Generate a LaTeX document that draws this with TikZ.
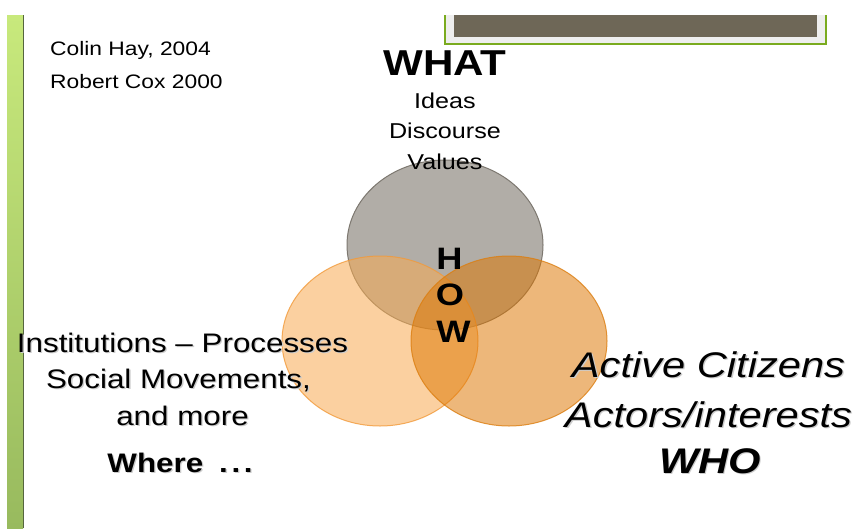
\documentclass[tikz,border=0pt]{standalone}
\usepackage{fontspec}
\setmainfont[FakeStretch=1.17]{Liberation Sans}
\definecolor{barTop}{HTML}{C8E97C}
\definecolor{barBot}{HTML}{98BA5E}
\definecolor{barEdge}{HTML}{55653F}
\definecolor{frameGreen}{HTML}{7AAB1F}
\definecolor{frameFill}{HTML}{6E6757}
\definecolor{frameGap}{HTML}{EEEEEE}
\definecolor{greyFill}{HTML}{B1ADA7}
\definecolor{greyEdge}{HTML}{7D7870}
\definecolor{leftFill}{HTML}{F8AB52}
\definecolor{leftEdge}{HTML}{F29A3A}
\definecolor{rightFill}{HTML}{DE7600}
\definecolor{rightEdge}{HTML}{DC7E10}
% text with a soft offset shadow
\newcommand\shadowed[1]{\makebox[0pt][l]{\hspace{1.3pt}\raisebox{-1.3pt}{\textcolor{black!20}{#1}}}#1}
\begin{document}
\begin{tikzpicture}[x=1pt,y=-1pt,
  ref/.style={anchor=base west,inner sep=0pt,font=\fontsize{19.5}{23}\selectfont},
  topline/.style={anchor=base,inner sep=0pt,font=\fontsize{21.5}{25}\selectfont},
  howletter/.style={anchor=base,inner sep=0pt,font=\fontsize{31}{36}\selectfont\bfseries},
  leftline/.style={anchor=base,inner sep=0pt,font=\fontsize{26.8}{31}\selectfont},
  rightline/.style={anchor=base,inner sep=0pt,font=\fontsize{35.6}{42}\selectfont\itshape},
  venn/.style={line width=1pt}]
\useasboundingbox (0,0) rectangle (859,528);
\fill[white] (0,0) rectangle (859,528);

% left decorative bar
\shade[top color=barTop,bottom color=barBot] (7,15) rectangle (23,528);
\draw[barEdge,line width=1.3pt] (23.6,15) -- (23.6,528);

% framed panel at the top right
\fill[frameGap] (445,15) rectangle (826,44);
\fill[frameFill] (454,15) rectangle (817,37);
\draw[frameGreen,line width=2pt] (445,15) -- (445,44) -- (826,44) -- (826,15);

% three overlapping ellipses
\coordinate (cWhat) at (445,245);
\coordinate (cWhere) at (380,341);
\coordinate (cWho) at (509,341);
\filldraw[venn,fill=greyFill,draw=greyEdge] (cWhat) ellipse [x radius=98,y radius=85];
\filldraw[venn,fill=leftFill,draw=leftEdge,fill opacity=0.55,draw opacity=0.8] (cWhere) ellipse [x radius=98,y radius=85];
\filldraw[venn,fill=rightFill,draw=rightEdge,fill opacity=0.52,draw opacity=0.8] (cWho) ellipse [x radius=98,y radius=85];

% references
\node[ref] (hay) at (50,55) {Colin Hay, 2004};
\node[ref] (cox) at (50,88) {Robert Cox 2000};

% WHAT
\node[anchor=base,inner sep=0pt,font=\fontsize{36}{41}\selectfont\bfseries] (what) at (445,75) {WHAT};
\node[topline] (ideas) at (445,108) {Ideas};
\node[topline] (disc) at (445,138) {Discourse};
\node[topline] (values) at (445,169) {Values};

% HOW
\node[howletter] (h) at (449.5,269) {H};
\node[howletter] (o) at (450,305) {O};
\node[howletter] (w) at (453.5,342) {W};

% WHERE
\node[leftline] (inst) at (182.5,352) {\shadowed{Institutions – Processes}};
\node[leftline] (soc) at (178.5,388) {\shadowed{Social Movements,}};
\node[leftline] (more) at (182.5,425) {\shadowed{and more}};
\node[leftline,font=\fontsize{26.8}{31}\selectfont\bfseries] (where) at (180,472)
  {\shadowed{Where\hspace{16pt}.\kern3.6pt.\kern3.6pt.}};

% WHO
\node[rightline] (active) at (708.5,377) {\shadowed{Active Citizens}};
\node[rightline] (actors) at (708.5,427) {\shadowed{Actors/interests}};
\node[rightline,font=\fontsize{35.6}{42}\selectfont\bfseries\itshape] (who) at (710,473) {\shadowed{WHO}};
\end{tikzpicture}
\end{document}
